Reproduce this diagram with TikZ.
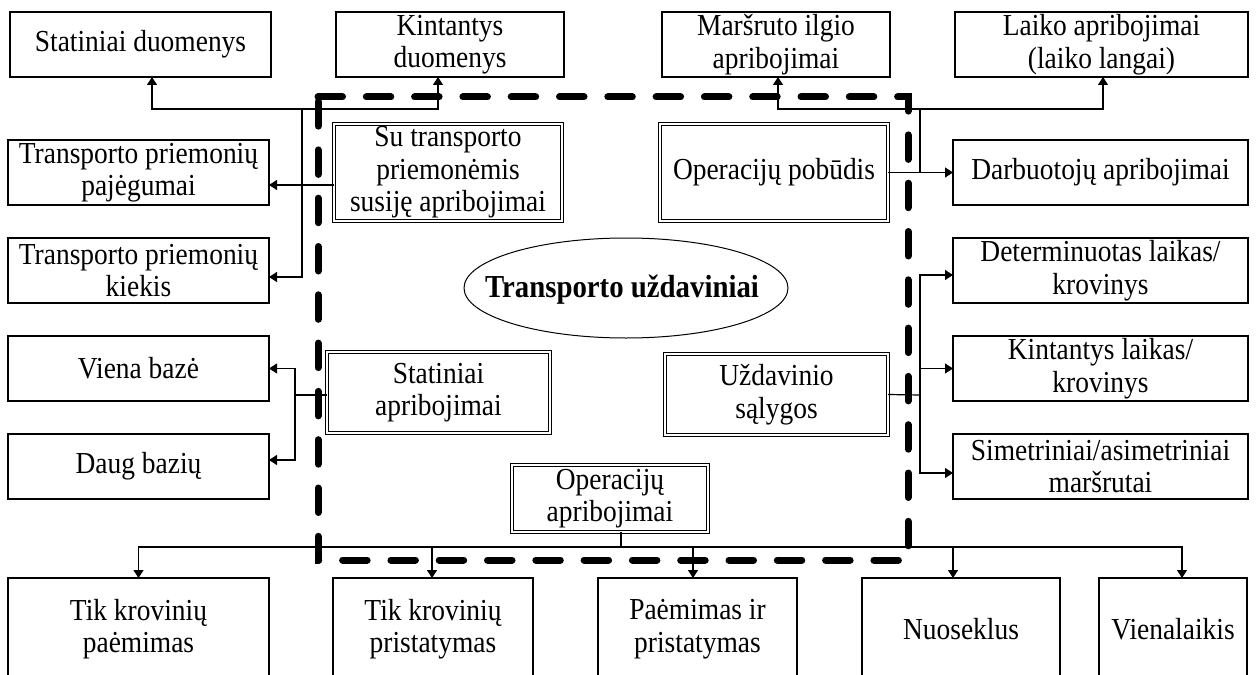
\documentclass[tikz,border=0pt]{standalone}
\usepackage{fontspec}
\setmainfont{Liberation Serif}[FakeStretch=0.9]
\usetikzlibrary{arrows.meta}
\begin{document}
\begin{tikzpicture}[x=1pt,y=-1pt,
  every node/.style={font=\fontsize{30.5}{32.5}\selectfont},
  box/.style={draw, line width=1.2pt, inner sep=0pt, outer sep=0pt, align=center, fill=white},
  dbox/.style={draw, line width=0.9pt, double, double distance=2.4pt, inner sep=0pt, outer sep=0pt, align=center},
  conn/.style={line width=1.2pt},
  arr/.style={line width=1.2pt, -{Triangle[length=8pt,width=10pt]}},
  border/.style={line width=7pt, line cap=round, dash pattern=on 24.5pt off 23.8pt}
]
\useasboundingbox (0,0) rectangle (1257,674);
\clip (0,0) rectangle (1257,674);
\fill[white] (0,0) rectangle (1257,674);

% dashed frame
\draw[border] (318,97) -- (908,97) -- (908,560) -- (318,560) -- cycle;

% top row
\node[box, minimum width=261pt, minimum height=65pt] (sd) at (140.5,44.5) {Statiniai duomenys};
\node[box, minimum width=228pt, minimum height=65pt] (kd) at (450,44.5) {Kintantys\\duomenys};
\node[box, minimum width=228pt, minimum height=65pt] (mi) at (776,44.5) {Maršruto ilgio\\apribojimai};
\node[box, minimum width=293pt, minimum height=65pt] (la) at (1101.5,44.5) {Laiko apribojimai\\(laiko langai)};

% left column
\node[box, minimum width=261pt, minimum height=65pt] (tp) at (138.5,172.5) {Transporto priemonių\\pajėgumai};
\node[box, minimum width=261pt, minimum height=65pt] (tk) at (138.5,270.5) {Transporto priemonių\\kiekis};
\node[box, minimum width=261pt, minimum height=65pt] (vb) at (138.5,368.5) {Viena bazė};
\node[box, minimum width=261pt, minimum height=65pt] (db) at (138.5,466.5) {Daug bazių};

% right column
\node[box, minimum width=295pt, minimum height=65pt] (da) at (1100.5,172.5) {Darbuotojų apribojimai};
\node[box, minimum width=295pt, minimum height=65pt] (dl) at (1100.5,270.5) {Determinuotas laikas/\\krovinys};
\node[box, minimum width=295pt, minimum height=65pt] (kl) at (1100.5,368.5) {Kintantys laikas/\\krovinys};
\node[box, minimum width=295pt, minimum height=65pt] (sa) at (1100.5,466.5) {Simetriniai/asimetriniai\\maršrutai};

% inner double boxes
\node[dbox, minimum width=228pt, minimum height=97pt] (st) at (448,172.5) {Su transporto\\priemonėmis\\susiję apribojimai};
\node[dbox, minimum width=228pt, minimum height=97pt] (op) at (774,172.5) {Operacijų pobūdis};
\node[dbox, minimum width=223pt, minimum height=81pt] (sap) at (438.5,392.5) {Statiniai\\apribojimai};
\node[dbox, minimum width=223pt, minimum height=81pt] (us) at (776.5,394.5) {Uždavinio\\sąlygos};
\node[dbox, minimum width=196pt, minimum height=67pt] (oa) at (610,498.5) {Operacijų\\apribojimai};

% ellipse
\draw[line width=1pt] (626,288) ellipse [x radius=162, y radius=50];
\node[font=\fontsize{32}{34}\selectfont\bfseries] (tu) at (622,290) {Transporto uždaviniai};

% bottom row
\node[box, minimum width=261pt, minimum height=102pt] (b1) at (138.5,629) {Tik krovinių\\paėmimas};
\node[box, minimum width=200pt, minimum height=102pt] (b2) at (433,629) {Tik krovinių\\pristatymas};
\node[box, minimum width=199pt, minimum height=102pt] (b3) at (697.5,629) {Paėmimas ir\\pristatymas};
\node[box, minimum width=198pt, minimum height=102pt] (b4) at (961,629) {Nuoseklus};
\node[box, minimum width=148pt, minimum height=102pt] (b5) at (1173,629) {Vienalaikis};

% junctions
\coordinate (j1) at (302,109);
\coordinate (j2) at (920,109);
\coordinate (j3) at (295,395);
\coordinate (j4) at (920,395);
\coordinate (j5) at (621,547);

% connectors top-left
\draw[arr] ([yshift=-12.5pt]st.west) -- ([yshift=-12.5pt]tp.east);
\draw[arr] (j1) |- ([yshift=-6.5pt]tk.east);
\draw[arr] (j1) -| ([xshift=11.5pt]sd.south);
\draw[arr] (j1) -| ([xshift=-12pt]kd.south);

% connectors top-right
\draw[arr] (op.east) -- (da.west);
\draw[conn] (j2) -- (j2 |- op.east);
\draw[arr] (j2) -| ([xshift=2pt]mi.south);
\draw[arr] (j2) -| ([xshift=1.5pt]la.south);

% static constraints
\draw[conn] ([yshift=-2.5pt]sap.west) -- (j3);
\draw[arr] (j3) |- (vb.east);
\draw[arr] (j3) |- ([yshift=6.5pt]db.east);

% task conditions
\draw[conn] (us.east) -- (j4);
\draw[arr] (j4) |- ([yshift=-4.5pt]dl.west);
\draw[arr] (j4) |- (kl.west);
\draw[arr] (j4) |- ([yshift=-6.5pt]sa.west);

% operation constraints
\draw[conn] ([xshift=11pt]oa.south) -- (j5);
\draw[arr] (j5) -| (b1.north);
\draw[arr] (j5) -| ([xshift=-1pt]b2.north);
\draw[arr] (j5) -| ([xshift=-4.5pt]b3.north);
\draw[arr] (j5) -| ([xshift=-8pt]b4.north);
\draw[arr] (j5) -| ([xshift=9pt]b5.north);
\end{tikzpicture}
\end{document}
